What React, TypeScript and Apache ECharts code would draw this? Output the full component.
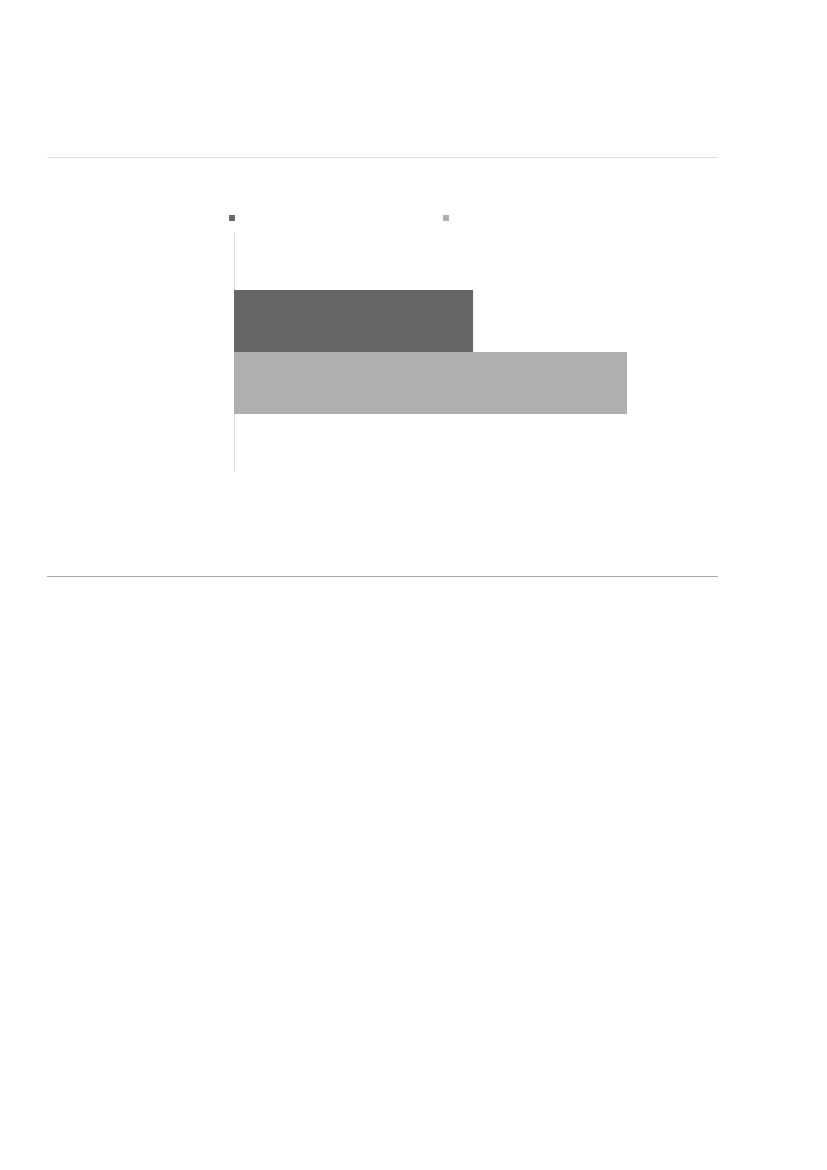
import { useEffect, useRef } from "react";
import * as echarts from "echarts";

const categories = [""];
const seriesNames = ["Series 1", "Series 2"];
const series1Values = [49.4];
const series2Values = [81.2];
const seriesColors = ["#676767", "#b0afb0"];

export default function App() {
  const chartRef = useRef<HTMLDivElement>(null);

  useEffect(() => {
    if (!chartRef.current) return;
    const chart = echarts.init(chartRef.current, null, { renderer: "svg" });

    chart.setOption({
      animation: false,
      backgroundColor: "#ffffff",
      legend: [
        {
          data: [seriesNames[0]],
          left: 221,
          top: 207,
          padding: 0,
          itemWidth: 6,
          itemHeight: 6,
          icon: "rect",
          formatter: () => "",
        },
        {
          data: [seriesNames[1]],
          left: 435,
          top: 207,
          padding: 0,
          itemWidth: 6,
          itemHeight: 6,
          icon: "rect",
          formatter: () => "",
        },
      ],
      grid: {
        left: 226,
        top: 225,
        width: 484,
        height: 238,
      },
      xAxis: {
        type: "value",
        min: 0,
        max: 100,
        show: false,
      },
      yAxis: {
        type: "category",
        data: categories,
        axisLine: { show: true, lineStyle: { color: "#dddddd", width: 1 } },
        axisTick: { show: false },
        axisLabel: { show: false },
        splitLine: { show: false },
      },
      graphic: [
        {
          type: "line",
          shape: { x1: 39, y1: 149.5, x2: 710, y2: 149.5 },
          style: { stroke: "#dcdcdc", lineWidth: 1 },
        },
        {
          type: "line",
          shape: { x1: 39, y1: 568.5, x2: 710, y2: 568.5 },
          style: { stroke: "#a9a9a9", lineWidth: 1 },
        },
      ],
      series: [
        {
          name: seriesNames[0],
          type: "bar",
          data: series1Values,
          itemStyle: { color: seriesColors[0] },
          barGap: "0%",
          barCategoryGap: "48%",
        },
        {
          name: seriesNames[1],
          type: "bar",
          data: series2Values,
          itemStyle: { color: seriesColors[1] },
          barGap: "0%",
          barCategoryGap: "48%",
        },
      ],
    });

    return () => {
      chart.dispose();
    };
  }, []);

  return <div ref={chartRef} style={{ width: 811, height: 1154 }} />;
}
